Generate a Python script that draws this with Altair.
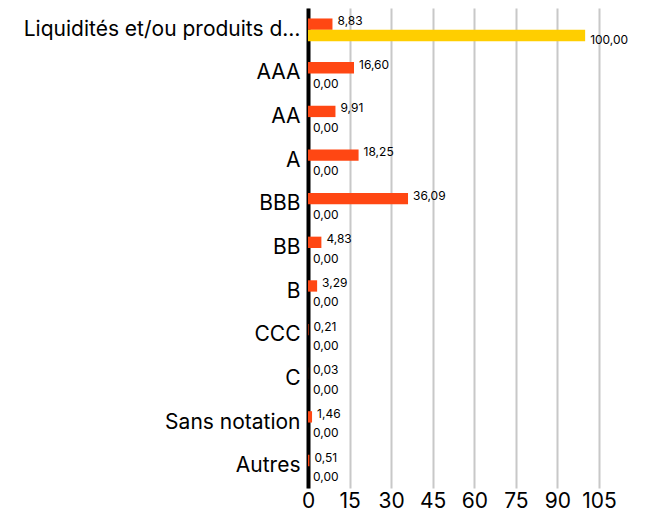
import altair as alt
import pandas as pd

categories = ["Liquidités et/ou produits dérivés", "AAA", "AA", "A", "BBB", "BB", "B",
              "CCC", "C", "Sans notation", "Autres"]
series_a = [8.83, 16.60, 9.91, 18.25, 36.09, 4.83, 3.29, 0.21, 0.03, 1.46, 0.51]
series_b = [100.00, 0, 0, 0, 0, 0, 0, 0, 0, 0, 0]
series_names = ["Fonds", "Indice"]
x_ticks = [0, 15, 30, 45, 60, 75, 90, 105]

rows = []
for c, a, b in zip(categories, series_a, series_b):
    rows.append({"cat": c, "serie": series_names[0], "val": a, "lab": f"{a:.2f}".replace(".", ",")})
    rows.append({"cat": c, "serie": series_names[1], "val": b, "lab": f"{b:.2f}".replace(".", ",")})
df = pd.DataFrame(rows)

FONT = "Inter"
colors = ["#FF4713", "#FFCE00"]

y_enc = alt.Y("cat:N", sort=categories, title=None,
              scale=alt.Scale(paddingInner=0.48, paddingOuter=0.24),
              axis=alt.Axis(domain=True, domainColor="#000000", domainWidth=4,
                            ticks=False, labelFontSize=21, labelColor="#000000",
                            labelFont=FONT, labelLimit=284, labelPadding=8, grid=False))
x_enc = alt.X("val:Q", title=None,
              scale=alt.Scale(domain=[0, 105], nice=False),
              axis=alt.Axis(values=x_ticks, domain=False, ticks=False, grid=True,
                            gridColor="#C8C8C8", gridWidth=2, labelFontSize=21,
                            labelColor="#000000", labelFont=FONT, labelPadding=2,
                            labelFlush=False))
yoff = alt.YOffset("serie:N", sort=series_names, scale=alt.Scale(paddingInner=0, paddingOuter=0))

base = alt.Chart(df)
bars = base.mark_bar().encode(
    y=y_enc, x=x_enc, yOffset=yoff,
    color=alt.Color("serie:N", sort=series_names,
                    scale=alt.Scale(domain=series_names, range=colors), legend=None),
)
txt_a = base.transform_filter(alt.datum.serie == series_names[0]).mark_text(
    align="left", baseline="middle", dx=5, dy=-3, fontSize=12, font=FONT, color="#000000"
).encode(y=alt.Y("cat:N", sort=categories), x="val:Q", yOffset=yoff, text="lab:N")
txt_b = base.transform_filter(alt.datum.serie == series_names[1]).mark_text(
    align="left", baseline="middle", dx=5, dy=5, fontSize=12, font=FONT, color="#000000"
).encode(y=alt.Y("cat:N", sort=categories), x="val:Q", yOffset=yoff, text="lab:N")

chart = alt.layer(bars, txt_a, txt_b).properties(
    width=291, height=480,
    autosize=alt.AutoSizeParams(type="none"),
    padding={"left": 300, "top": 0, "right": 30, "bottom": 25},
).configure_view(stroke=None)

chart.save("out.html", embed_options={"renderer": "svg", "actions": False})
